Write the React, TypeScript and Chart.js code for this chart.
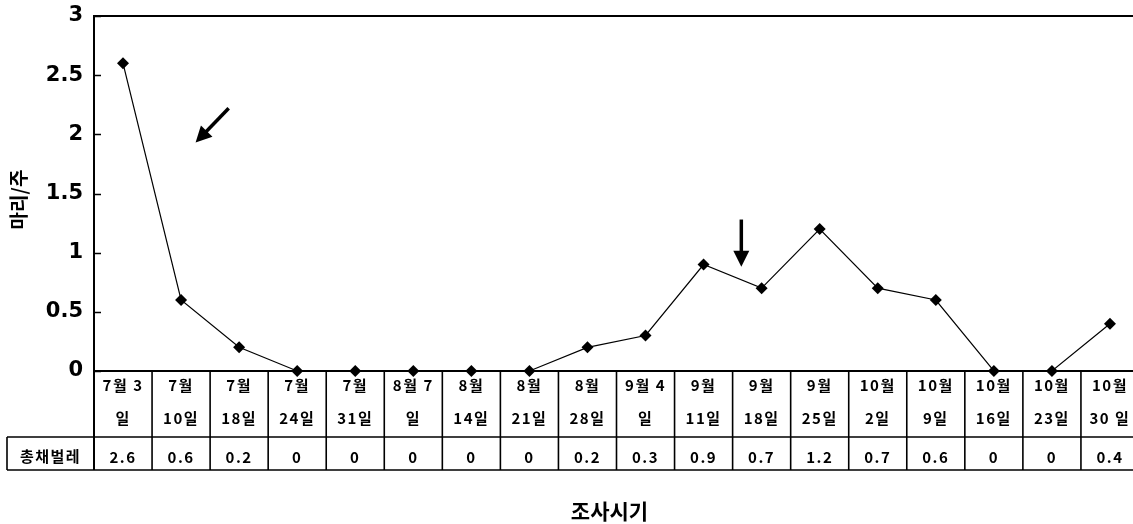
import { useEffect, useRef } from "react";
import { Chart, registerables } from "chart.js";

Chart.register(...registerables);

// Survey dates, split into the two lines shown in each table cell
const dateLabels: string[][] = [
  ["7월 3", "일"], ["7월", "10일"], ["7월", "18일"], ["7월", "24일"], ["7월", "31일"],
  ["8월 7", "일"], ["8월", "14일"], ["8월", "21일"], ["8월", "28일"], ["9월 4", "일"],
  ["9월", "11일"], ["9월", "18일"], ["9월", "25일"], ["10월", "2일"], ["10월", "9일"],
  ["10월", "16일"], ["10월", "23일"], ["10월", "30 일"],
];
const seriesName = "총채벌레";
const thripsPerWeek = [2.6, 0.6, 0.2, 0, 0, 0, 0, 0, 0.2, 0.3, 0.9, 0.7, 1.2, 0.7, 0.6, 0, 0, 0.4];
const yMin = 0;
const yMax = 3;
const yStep = 0.5;
const yTitle = "마리/주";
const xTitle = "조사시기";

// Arrow annotations in data units: [category index, value] for tail and head
const arrowTails: number[][] = [[1.82, 2.22], [10.65, 1.28]];
const arrowHeads: number[][] = [[1.25, 1.93], [10.65, 0.88]];

const CANVAS_W = 1145;
const CANVAS_H = 524;
const ROW1_H = 66;
const ROW2_H = 33;
const LABEL_CELL_LEFT = 7;
const TABLE_FONT = "bold 15px 'Noto Sans CJK KR', sans-serif";
const TITLE_FONT = "bold 21px 'Noto Sans CJK KR', sans-serif";

function drawArrow(ctx: CanvasRenderingContext2D, x0: number, y0: number, x1: number, y1: number) {
  const ang = Math.atan2(y1 - y0, x1 - x0);
  const headLen = 16;
  const headHalf = 8;
  const bx = x1 - Math.cos(ang) * headLen;
  const by = y1 - Math.sin(ang) * headLen;
  ctx.save();
  ctx.strokeStyle = "#000";
  ctx.fillStyle = "#000";
  ctx.lineWidth = 3.5;
  ctx.lineCap = "butt";
  ctx.beginPath();
  ctx.moveTo(x0, y0);
  ctx.lineTo(bx + Math.cos(ang) * 2, by + Math.sin(ang) * 2);
  ctx.stroke();
  ctx.beginPath();
  ctx.moveTo(x1, y1);
  ctx.lineTo(bx + Math.cos(ang + Math.PI / 2) * headHalf, by + Math.sin(ang + Math.PI / 2) * headHalf);
  ctx.lineTo(bx - Math.cos(ang + Math.PI / 2) * headHalf, by - Math.sin(ang + Math.PI / 2) * headHalf);
  ctx.closePath();
  ctx.fill();
  ctx.restore();
}

const tablePlugin = {
  id: "dataTable",
  beforeDraw(chart: any) {
    const { ctx, width, height } = chart;
    ctx.save();
    ctx.fillStyle = "#fff";
    ctx.fillRect(0, 0, width, height);
    ctx.restore();
  },
  afterDraw(chart: any) {
    const { ctx, chartArea: ca, scales } = chart;
    const xs = scales.x;
    const ys = scales.y;
    const n = dateLabels.length;
    const colW = (ca.right - ca.left) / n;
    const r1Top = ca.bottom;
    const r1Bot = ca.bottom + ROW1_H;
    const r2Bot = r1Bot + ROW2_H;

    ctx.save();
    ctx.strokeStyle = "#000";
    ctx.lineWidth = 2;

    // plot frame
    ctx.beginPath();
    ctx.moveTo(ca.left, r2Bot);
    ctx.lineTo(ca.left, ca.top);
    ctx.lineTo(ca.right, ca.top);
    ctx.lineTo(ca.right, r2Bot);
    ctx.moveTo(ca.left, ca.bottom);
    ctx.lineTo(ca.right, ca.bottom);
    ctx.stroke();

    // inward tick marks on the value axis
    ctx.lineWidth = 1.5;
    ctx.beginPath();
    for (let v = yMin; v <= yMax + 1e-9; v += yStep) {
      const py = Math.round(ys.getPixelForValue(v)) + 0.5;
      ctx.moveTo(ca.left, py);
      ctx.lineTo(ca.left + 7, py);
    }
    ctx.stroke();

    // table grid
    ctx.lineWidth = 1.6;
    ctx.beginPath();
    ctx.moveTo(LABEL_CELL_LEFT, r1Bot);
    ctx.lineTo(ca.right, r1Bot);
    ctx.moveTo(LABEL_CELL_LEFT, r2Bot);
    ctx.lineTo(ca.right, r2Bot);
    ctx.moveTo(LABEL_CELL_LEFT, r1Bot);
    ctx.lineTo(LABEL_CELL_LEFT, r2Bot);
    for (let i = 1; i < n; i++) {
      const bx = ca.left + colW * i;
      ctx.moveTo(bx, r1Top);
      ctx.lineTo(bx, r2Bot);
    }
    ctx.stroke();

    // table text
    ctx.fillStyle = "#000";
    ctx.font = TABLE_FONT;
    (ctx as any).letterSpacing = "1.5px";
    ctx.textAlign = "center";
    ctx.textBaseline = "middle";
    for (let i = 0; i < n; i++) {
      const cx = xs.getPixelForValue(i);
      const [l1, l2] = dateLabels[i];
      ctx.fillText(l1, cx, r1Top + 14);
      ctx.fillText(l2, cx, r1Top + 47);
      ctx.fillText(String(thripsPerWeek[i]), cx, r1Bot + 20);
    }
    ctx.fillText(seriesName, (LABEL_CELL_LEFT + ca.left) / 2, r1Bot + 19);
    (ctx as any).letterSpacing = "0px";

    // axis titles
    ctx.font = TITLE_FONT;
    ctx.fillText(xTitle, (ca.left + ca.right) / 2 - 7, 511);
    ctx.save();
    ctx.translate(19, (ca.top + ca.bottom) / 2 + 6);
    ctx.rotate(-Math.PI / 2);
    ctx.font = "bold 19px 'Noto Sans CJK KR', sans-serif";
    ctx.fillText(yTitle, 0, 0);
    ctx.restore();

    // arrows
    for (let k = 0; k < arrowTails.length; k++) {
      const [ti, tv] = arrowTails[k];
      const [hi, hv] = arrowHeads[k];
      drawArrow(
        ctx,
        xs.getPixelForValue(ti), ys.getPixelForValue(tv),
        xs.getPixelForValue(hi), ys.getPixelForValue(hv)
      );
    }
    ctx.restore();
  },
};

export default function App() {
  const canvasRef = useRef<HTMLCanvasElement | null>(null);

  useEffect(() => {
    const canvas = canvasRef.current;
    if (!canvas) return;
    const chart = new Chart(canvas, {
      type: "line",
      data: {
        labels: dateLabels.map((l) => l.join(" ")),
        datasets: [
          {
            label: seriesName,
            data: thripsPerWeek,
            borderColor: "#000",
            borderWidth: 1.2,
            tension: 0,
            pointStyle: "rectRot",
            pointRadius: 6,
            pointHoverRadius: 6,
            pointBackgroundColor: "#000",
            pointBorderColor: "#000",
            pointBorderWidth: 0,
            clip: false,
          } as any,
        ],
      },
      options: {
        responsive: false,
        animation: false,
        devicePixelRatio: 1,
        events: [],
        layout: { padding: { left: 0, right: 3, top: 16, bottom: 153 } },
        plugins: {
          legend: { display: false },
          tooltip: { enabled: false },
          title: { display: false },
        },
        scales: {
          x: {
            type: "category",
            offset: true,
            display: false,
          },
          y: {
            min: yMin,
            max: yMax,
            grid: { display: false, drawTicks: false },
            border: { display: false },
            ticks: {
              stepSize: yStep,
              padding: 11,
              color: "#000",
              font: { family: "'DejaVu Sans'", size: 21, weight: "bold" },
              callback: (value: any) => String(Number(value)),
            },
            afterFit: (scale: any) => {
              scale.width = 94;
              scale.paddingTop = 0;
              scale.paddingBottom = 0;
            },
          },
        },
      },
      plugins: [tablePlugin],
    });
    return () => chart.destroy();
  }, []);

  return (
    <div
      style={{
        position: "fixed",
        left: 0,
        top: 0,
        width: 1133,
        height: 524,
        overflow: "hidden",
        background: "#fff",
      }}
    >
      <canvas
        ref={canvasRef}
        width={CANVAS_W}
        height={CANVAS_H}
        style={{ width: CANVAS_W, height: CANVAS_H, display: "block" }}
      />
    </div>
  );
}
